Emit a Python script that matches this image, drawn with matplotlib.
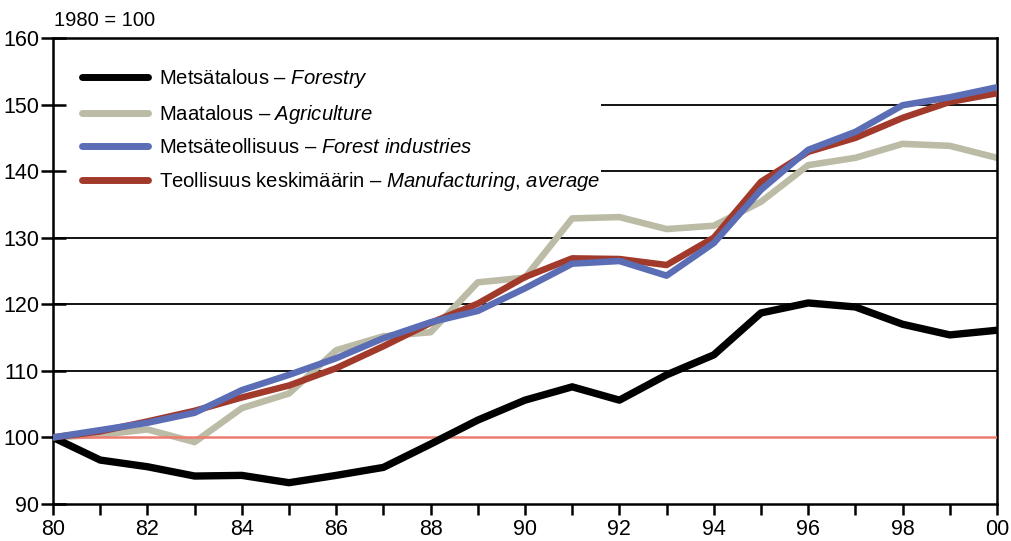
import matplotlib
matplotlib.use("Agg")
import matplotlib.pyplot as plt
from matplotlib.patches import Rectangle
from matplotlib.ticker import MultipleLocator, FuncFormatter

# ── Data (index, 1980 = 100) ─────────────────────────────────────────────────
years = list(range(1980, 2001))

forestry = [100.0, 96.6, 95.6, 94.2, 94.3, 93.2, 94.3, 95.5, 99.0, 102.6,
            105.6, 107.6, 105.6, 109.4, 112.4, 118.7, 120.2, 119.6, 117.0,
            115.4, 116.1]
agriculture = [100.0, 100.4, 101.2, 99.3, 104.4, 106.6, 113.1, 115.2, 115.8,
               123.3, 124.0, 132.9, 133.1, 131.3, 131.8, 135.4, 140.9, 142.0,
               144.1, 143.8, 142.0]
forest_ind = [100.0, 101.1, 102.2, 103.7, 107.1, 109.4, 111.9, 114.9, 117.3,
              119.0, 122.4, 126.1, 126.5, 124.3, 129.2, 137.2, 143.2, 145.9,
              149.9, 151.1, 152.6]
manufacturing = [100.0, 100.9, 102.4, 104.0, 106.0, 107.8, 110.4, 113.7,
                 117.2, 120.1, 124.1, 126.9, 126.8, 125.9, 130.0, 138.4,
                 142.9, 145.0, 148.0, 150.4, 151.7]

labels = [
    r"Metsätalous – $\it{Forestry}$",
    r"Maatalous – $\it{Agriculture}$",
    r"Metsäteollisuus – $\it{Forest\ industries}$",
    r"Teollisuus keskimäärin – $\it{Manufacturing{,}\ average}$",
]

plt.rcParams["font.family"] = ["Liberation Sans", "DejaVu Sans"]
plt.rcParams["mathtext.fontset"] = "custom"
plt.rcParams["mathtext.it"] = "Liberation Sans:italic"
plt.rcParams["mathtext.rm"] = "Liberation Sans"

# ── Figure ───────────────────────────────────────────────────────────────────
fig = plt.figure(figsize=(10.12, 5.41), dpi=100)
ax = fig.add_axes([53 / 1012, 1 - 504 / 541, 944 / 1012, 466 / 541])

for v in range(110, 160, 10):
    ax.axhline(v, color="black", linewidth=1.3, zorder=1)
ax.axhline(100, color="#EE7B6F", linewidth=1.8, zorder=3)

# white block behind the legend hides the upper grid lines
ax.add_patch(Rectangle((0, 0.655), 0.58, 0.345, transform=ax.transAxes,
                       facecolor="white", edgecolor="none", zorder=1.5))

ax.plot(years, forestry, color="black", lw=5.3, zorder=4,
        solid_joinstyle="round", label=labels[0])
ax.plot(years, agriculture, color="#BBBBA6", lw=4.7, zorder=2,
        solid_joinstyle="round", label=labels[1])
ax.plot(years, forest_ind, color="#5B6DB5", lw=4.7, zorder=5,
        solid_joinstyle="round", label=labels[2])
ax.plot(years, manufacturing, color="#A23A2C", lw=4.7, zorder=4.5,
        solid_joinstyle="round", label=labels[3])

ax.set_xlim(1980, 2000)
ax.set_ylim(90, 160)
ax.yaxis.set_major_locator(MultipleLocator(10))
ax.xaxis.set_major_locator(MultipleLocator(1))
ax.xaxis.set_major_formatter(FuncFormatter(
    lambda x, p: f"{int(x) % 100:02d}" if int(x) % 2 == 0 else ""))

for s in ax.spines.values():
    s.set_linewidth(1.8)
ax.tick_params(axis="x", direction="out", length=8, width=1.8,
               labelsize=15.5, pad=3)
ax.tick_params(axis="y", direction="inout", length=18, width=1.8,
               labelsize=15.5, pad=1)

leg = ax.legend(loc="upper left", bbox_to_anchor=(0.0307, 0.938),
                fontsize=14.6, frameon=False,
                handlelength=3.25, handletextpad=0.55, labelspacing=0.63,
                borderpad=0, borderaxespad=0)
leg.set_zorder(6)
for h in leg.get_lines():
    h.set_linewidth(5)
    h.set_solid_capstyle("round")

fig.text(54 / 1012, 1 - 20 / 541, "1980 = 100", fontsize=14.5,
         ha="left", va="center")

fig.savefig("out.png", dpi=100)
